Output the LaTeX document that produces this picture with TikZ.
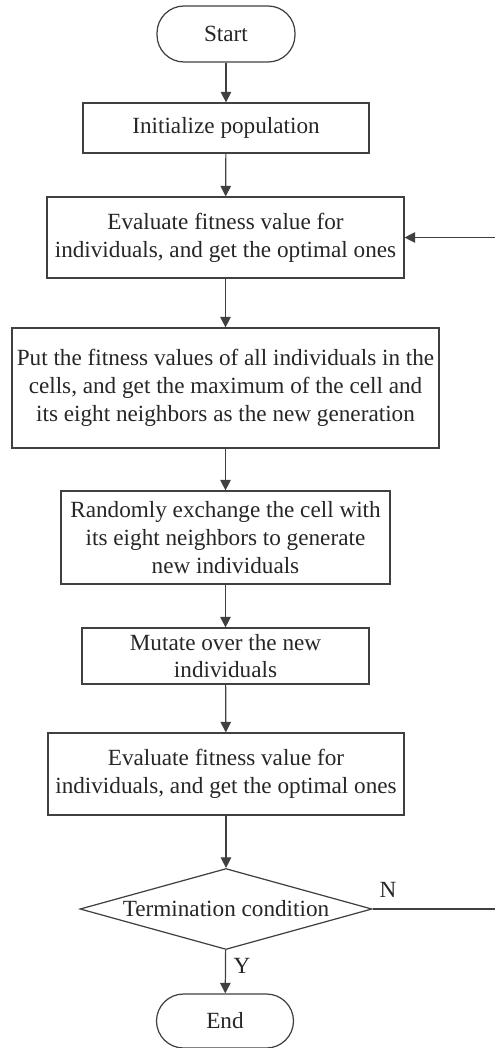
\documentclass[tikz,border=0pt]{standalone}
\usepackage{fontspec}
\setmainfont{Liberation Serif}
\usepackage{tikz}
\usetikzlibrary{arrows.meta, shapes.geometric, calc}

\begin{document}
\begin{tikzpicture}[x=0.02cm, y=-0.02cm,
  every node/.style={font=\fontsize{13.2}{15.8}\selectfont, text=black!85},
  box/.style={draw=black!75, line width=0.7pt, rectangle, inner sep=0pt, align=center},
  term/.style={box, rounded corners=0.54cm},
  flow/.style={draw=black!75, line width=0.7pt, -{Triangle[length=6pt, width=6pt]}}]
  \pgfmathsetmacro{\xr}{500};

  \useasboundingbox (0,0) rectangle (494,1048);

  \node[term, minimum width=2.76cm, minimum height=1.12cm] (S) at (226,34) {Start};
  \node[box, minimum width=5.72cm, minimum height=1.0cm] (I) at (226,128) {Initialize population};
  \node[box, minimum width=7.14cm, minimum height=1.62cm] (E) at (225.5,237.5)
    {Evaluate fitness value for\\ individuals, and get the optimal ones};
  \node[box, minimum width=8.54cm, minimum height=2.40cm] (P) at (225.5,388)
    {Put the fitness values of all individuals in the\\ cells, and get the maximum of the cell and\\ its eight neighbors as the new generation};
  \node[box, minimum width=6.58cm, minimum height=1.86cm] (R) at (225.5,537.5)
    {Randomly exchange the cell with\\ its eight neighbors to generate\\ new individuals};
  \node[box, minimum width=5.74cm, minimum height=1.12cm] (M) at (225.5,656)
    {Mutate over the new\\ individuals};
  \node[box, minimum width=7.12cm, minimum height=1.64cm] (F) at (226,774)
    {Evaluate fitness value for\\ individuals, and get the optimal ones};
  \node[box, diamond, aspect=3.6, minimum width=5.84cm, minimum height=1.62cm] (D) at (226,909)
    {Termination condition};
  \node[term, minimum width=2.74cm, minimum height=1.08cm] (T) at (225,1021) {End};

  \node (LN) at (388,890) {N};
  \node (LY) at (242,966) {Y};

  \coordinate (a) at (\xr,909);
  \coordinate (b) at (\xr,237.5);

  \draw[flow] (S) -- (I);
  \draw[flow] (I) -- (E);
  \draw[flow] (E) -- (P);
  \draw[flow] (P) -- (R);
  \draw[flow] (R) -- (M);
  \draw[flow] (M) -- (F);
  \draw[flow] (F) -- (D);
  \draw[flow] (D) -- (T);
  %\draw (D.east) -- (a);
  \draw[flow] (D.east) -- (a) -- (b) -- (E.east);
\end{tikzpicture}
\end{document}
